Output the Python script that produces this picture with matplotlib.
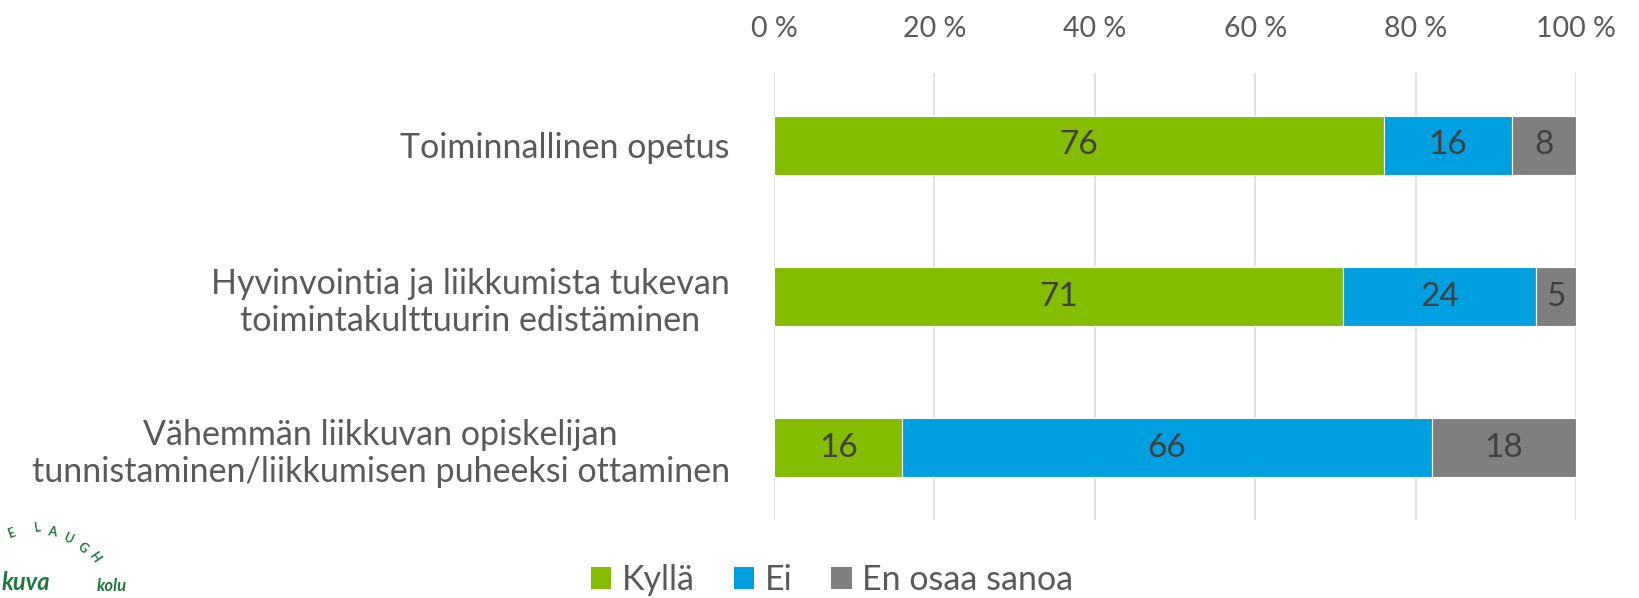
import matplotlib
matplotlib.use("Agg")
import matplotlib.pyplot as plt
from matplotlib.patches import Patch
from matplotlib.ticker import FuncFormatter

categories = [
    "Toiminnallinen opetus",
    "Hyvinvointia ja liikkumista tukevan\ntoimintakulttuurin edistäminen",
    "Vähemmän liikkuvan opiskelijan\ntunnistaminen/liikkumisen puheeksi ottaminen",
]
series_names = ["Kyllä", "Ei", "En osaa sanoa"]
kylla = [76, 71, 16]
ei = [16, 24, 66]
eos = [8, 5, 18]
xticks = [0, 20, 40, 60, 80, 100]

colors = ["#84BC00", "#009FDF", "#7F7F7F"]
FONT = "Lato"
plt.rcParams["font.family"] = [FONT, "DejaVu Sans"]

fig = plt.figure(figsize=(16.4, 5.98), dpi=100)
ax = fig.add_axes([0.472, 0.130, 0.961 - 0.472, 0.878 - 0.130])

ypos = list(range(len(categories)))
left = [0] * len(categories)
for name, vals, col in zip(series_names, [kylla, ei, eos], colors):
    ax.barh(ypos, vals, left=left, height=0.39, color=col,
            edgecolor="white", linewidth=0.8, label=name, zorder=3)
    for y, l, v in zip(ypos, left, vals):
        ax.text(l + v / 2, y, f"{v}", ha="center", va="center",
                fontsize=24, color="#404040", zorder=4)
    left = [a + b for a, b in zip(left, vals)]

ax.set_xlim(0, 100)
ax.set_ylim(2.48, -0.48)
ax.set_xticks(xticks)
ax.xaxis.set_major_formatter(FuncFormatter(lambda v, p: f"{int(v)} %"))
ax.xaxis.tick_top()
ax.tick_params(axis="x", length=0, pad=22, labelsize=20.5, labelcolor="#595959")
ax.set_yticks(ypos)
ax.set_yticklabels(categories)
ax.tick_params(axis="y", length=0, pad=32, labelsize=24.5, labelcolor="#595959")
for t in ax.get_yticklabels():
    t.set_multialignment("center")
    t.set_linespacing(1.2)
ax.grid(axis="x", color="#D9D9D9", linewidth=1.1, zorder=0)
for s in ax.spines.values():
    s.set_visible(False)

handles = [Patch(facecolor=c, edgecolor="none") for c in colors]
fig.legend(handles, series_names, loc="center", bbox_to_anchor=(832 / 1640, 1 - 580 / 598),
           ncol=3, frameon=False, fontsize=24.5, labelcolor="#595959",
           handlelength=0.6, handleheight=0.6, handletextpad=0.3, columnspacing=1.15,
           borderpad=0.1)

# partial logo in the lower-left corner
logo_col = "#1B7A3A"
letters = [("E", 12, 533, 20), ("L", 38, 528, 8), ("A", 52, 532, -10),
           ("U", 68, 538, -25), ("G", 83, 548, -40), ("H", 95, 558, -55)]
for ch, x, y, rot in letters:
    fig.text(x / 1640, 1 - y / 598, ch, color=logo_col, fontsize=9, fontweight="bold",
             ha="center", va="center", rotation=rot)
fig.text(2 / 1640, 1 - 582 / 598, "kuva", color=logo_col, fontsize=17, style="italic",
         fontweight="bold", ha="left", va="center")
fig.text(97 / 1640, 1 - 586 / 598, "kolu", color=logo_col, fontsize=12, style="italic",
         fontweight="bold", ha="left", va="center")

fig.savefig("out.png", dpi=100)
